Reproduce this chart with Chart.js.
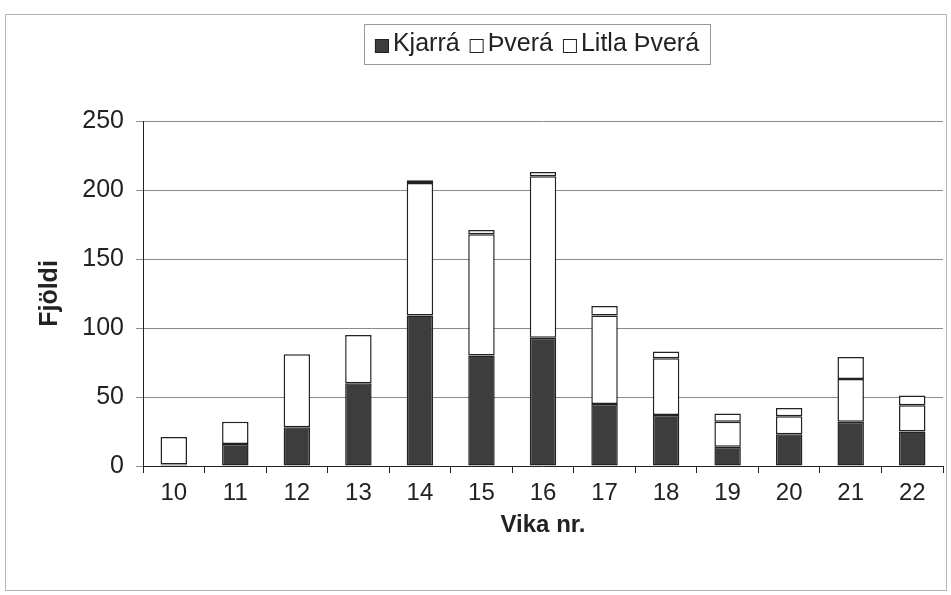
<!DOCTYPE html>
<html>
<head>
<meta charset="utf-8">
<script src="https://cdn.jsdelivr.net/npm/chart.js@4.4.1/dist/chart.umd.min.js"></script>
<style>
  html, body { margin: 0; padding: 0; background: #fff; }
  #wrap { width: 951px; height: 595px; position: relative; }
</style>
</head>
<body>
<div id="wrap"><canvas id="chart" width="951" height="595"></canvas></div>
<script>
// weekly counts per river
const weeks = ['10', '11', '12', '13', '14', '15', '16', '17', '18', '19', '20', '21', '22'];
const kjarra = [1, 16, 28, 60, 109, 80, 93, 45, 37, 14, 23, 32, 25];
const thvera = [20, 16, 53, 35, 96, 88, 117, 64, 41, 18, 13, 31, 19];
const litlaThvera = [0, 0, 0, 0, 2, 3, 3, 7, 5, 6, 6, 16, 7];
const seriesNames = ['Kjarrá', 'Þverá', 'Litla Þverá'];

const FONT = 'Liberation Sans, Arial, sans-serif';
const INK = '#222';

// outer frame + boxed legend, like the old spreadsheet chart
const framePlugin = {
    id: 'frame',
    afterDraw(chart) {
        const ctx = chart.ctx;
        ctx.save();
        ctx.strokeStyle = '#b5b5b5';
        ctx.lineWidth = 1;
        ctx.strokeRect(5.5, 14.5, 941, 576);

        // legend
        ctx.font = '25px ' + FONT;
        ctx.textBaseline = 'middle';
        const box = 14, gapBox = 4, gapItem = 10, pad = 11;
        const widths = chart.data.datasets.map(ds => box + gapBox + ctx.measureText(ds.label).width);
        const total = widths.reduce((a, b) => a + b, 0) + gapItem * (widths.length - 1);
        const cx = (chart.chartArea.left + chart.chartArea.right) / 2 - 6;
        let x = cx - total / 2;
        const top = 24, h = 40, cy = top + h / 2;
        ctx.strokeStyle = '#999';
        ctx.strokeRect(Math.round(x - pad) + 0.5, top + 0.5, Math.round(total + pad * 2), h);
        chart.data.datasets.forEach((ds, i) => {
            ctx.fillStyle = ds.backgroundColor;
            ctx.fillRect(x, cy - box / 2 + 2, box, box);
            ctx.strokeStyle = INK;
            ctx.strokeRect(x + 0.5, cy - box / 2 + 2.5, box - 1, box - 1);
            ctx.fillStyle = INK;
            ctx.fillText(ds.label, x + box + gapBox, cy);
            x += widths[i] + gapItem;
        });
        ctx.restore();
    }
};

new Chart(document.getElementById('chart'), {
    type: 'bar',
    data: {
        labels: weeks,
        datasets: [
            { label: seriesNames[0], data: kjarra, backgroundColor: '#3d3d3d' },
            { label: seriesNames[1], data: thvera, backgroundColor: '#ffffff' },
            { label: seriesNames[2], data: litlaThvera, backgroundColor: '#ffffff' }
        ].map(ds => Object.assign(ds, {
            borderColor: INK,
            borderWidth: 1.5,
            borderSkipped: false,
            barPercentage: 0.43,
            categoryPercentage: 1
        }))
    },
    options: {
        responsive: false,
        animation: false,
        layout: { padding: { left: 35, right: 8, top: 121, bottom: 50 } },
        plugins: {
            legend: { display: false },
            tooltip: { enabled: false }
        },
        scales: {
            x: {
                stacked: true,
                afterFit: scale => { scale.height = 595 - 50 - 466; },
                grid: { drawOnChartArea: false, offset: true, tickLength: 7, color: INK },
                border: { color: INK, width: 1 },
                ticks: { color: INK, padding: 6, font: { family: FONT, size: 24 } },
                title: {
                    display: true, text: 'Vika nr.', color: INK,
                    font: { family: FONT, size: 24, weight: 'bold' },
                    padding: { top: 0, bottom: 5 }
                }
            },
            y: {
                stacked: true,
                min: 0, max: 250,
                afterFit: scale => { scale.width = 108; },
                grid: { color: '#8a8a8a', tickLength: 7 },
                border: { color: INK, width: 1 },
                ticks: { stepSize: 50, color: INK, padding: 12, font: { family: FONT, size: 25 } },
                title: {
                    display: true, text: 'Fjöldi', color: INK,
                    font: { family: FONT, size: 25, weight: 'bold' },
                    padding: 0
                }
            }
        }
    },
    plugins: [framePlugin]
});
</script>
</body>
</html>
